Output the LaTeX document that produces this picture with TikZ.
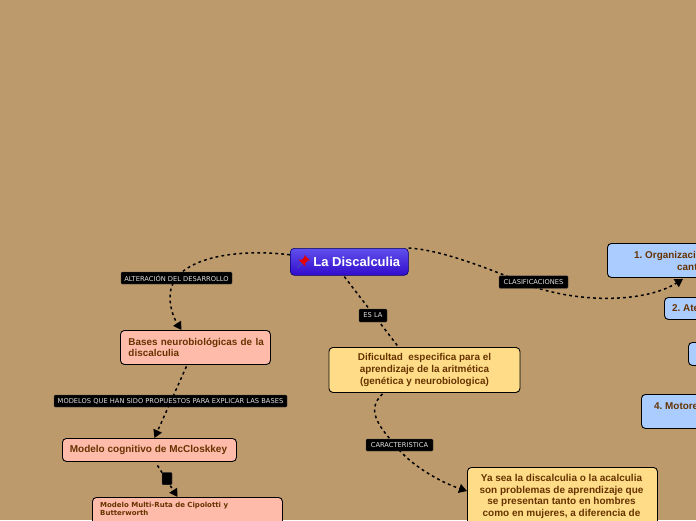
\documentclass[tikz,border=0pt]{standalone}
\usepackage{fontspec}
\setmainfont{Liberation Sans}
\newfontfamily\labfont{DejaVu Sans}
\usetikzlibrary{arrows.meta,shadings}
\definecolor{bgc}{RGB}{188,154,108}
\definecolor{txtc}{RGB}{102,51,0}
\definecolor{pinkc}{RGB}{255,187,170}
\definecolor{bluec}{RGB}{170,204,255}
\definecolor{yelc}{RGB}{255,221,136}
\definecolor{maintop}{RGB}{96,80,236}
\definecolor{mainbot}{RGB}{50,12,205}
\tikzset{
  boxbase/.style={draw=black,line width=0.9pt,rounded corners=4pt,inner sep=0pt,text=txtc,font=\bfseries\fontsize{10}{11.6}\selectfont},
  pinkbox/.style={boxbase,fill=pinkc},
  bluebox/.style={boxbase,fill=bluec},
  yelbox/.style={boxbase,fill=yelc,align=center},
  boxtext/.style={text=txtc,inner sep=0pt,anchor=base west,font=\bfseries\fontsize{9.9}{12}\selectfont},
  tag/.style={fill=black,draw=black!70,line width=0.3pt,rounded corners=1pt,text=white!88!black,inner sep=0pt,font=\labfont\fontsize{6.7}{7}\selectfont},
  conn/.style={draw=black,line width=1.5pt,dash pattern=on 2.8pt off 3.2pt},
  tipped/.style={conn,-{Triangle[length=8pt,width=9pt,fill=black]}},
}
\begin{document}
\frenchspacing
\begin{tikzpicture}[x=1pt,y=-1pt]
\useasboundingbox (0,0) rectangle (696,520);
\clip (0,0) rectangle (696,520);
\fill[bgc] (0,0) rectangle (696,520);

% boxes
\node[boxbase,draw=blue!40!black,line width=0.6pt,top color=maintop,bottom color=mainbot,text=white,minimum width=118pt,minimum height=27pt,anchor=north west,font=\bfseries\fontsize{13}{15}\selectfont] (main) at (290,248) {\hspace{15pt}La Discalculia};

\node[pinkbox,minimum width=150pt,minimum height=34pt,anchor=north west,align=left,text width=134pt,font=\bfseries\fontsize{9.9}{11.2}\selectfont] (bases) at (120,330) {\mbox{Bases neurobiológicas de la}\\discalculia};
\node[pinkbox,minimum width=174pt,minimum height=23pt,anchor=north west,font=\bfseries\fontsize{10}{12}\selectfont] (mcc) at (62,438) {\hspace{-2pt}Modelo cognitivo de McCloskkey};
\node[pinkbox,minimum width=190pt,minimum height=50pt,anchor=north west] (multi) at (92,497) {};
\node[text=txtc,inner sep=0pt,anchor=north west,align=left,font=\labfont\bfseries\fontsize{7}{8.2}\selectfont] (multitxt) at (100,502) {Modelo Multi-Ruta de Cipolotti y\\Butterworth};

\node[yelbox,minimum width=191pt,minimum height=45pt,anchor=north west,font=\bfseries\fontsize{9.9}{11.6}\selectfont] (dif) at (328.5,347) {Dificultad\ \ especifica para el\\aprendizaje de la aritmética\\(genética y neurobiologica)};
\node[yelbox,minimum width=190pt,minimum height=70pt,anchor=north west] (ya) at (467,467) {};
\node[text=txtc,inner sep=0pt,anchor=north,align=center,font=\bfseries\fontsize{10}{11.6}\selectfont] (yatxt) at (561.5,474) {Ya sea la discalculia o la acalculia\\son problemas de aprendizaje que\\se presentan tanto en hombres\\como en mujeres, a diferencia de};

\node[bluebox,minimum width=130pt,minimum height=34pt,anchor=north west] (b1) at (607,243) {};
\node[boxtext] (b1a) at (634,258.5) {1. Organizaci};
\node[boxtext] (b1b) at (677,270) {cant};
\node[bluebox,minimum width=80pt,minimum height=22pt,anchor=north west] (b2) at (664,297) {};
\node[boxtext] (b2a) at (672,311.5) {2. Ate};
\node[bluebox,minimum width=60pt,minimum height=23pt,anchor=north west] (b3) at (688,342) {};
\node[bluebox,minimum width=100pt,minimum height=34pt,anchor=north west] (b4) at (641,394) {};
\node[boxtext] (b4a) at (654,409.5) {4. Motore};

% connectors
\draw[tipped] (main.west) ++(0,-7) .. controls (235,248) and (170,258) .. (170,297) .. controls (170,310) and (175,320) .. ([xshift=-14pt]bases.north);
\draw[tipped] ([xshift=-9pt,yshift=-1.5pt]bases.south) -- ([xshift=5pt]mcc.north);
\draw[tipped] ([xshift=8pt,yshift=-3.5pt]mcc.south) -- ([xshift=-10pt]multi.north);
\draw[tipped] ([yshift=0pt]main.north east) .. controls (440,250) and (480,265) .. (534,287) .. controls (590,305) and (650,300) .. ([xshift=76pt,yshift=-1pt]b1.south west);
\draw[conn] ([xshift=-5pt,yshift=-1pt]main.south) -- ([xshift=-26pt]dif.north);
\draw[tipped] ([xshift=-42pt,yshift=-1pt]dif.south) .. controls (366,410) and (378,425) .. (395,445) .. controls (410,465) and (440,482) .. ([yshift=-24pt]ya.north west);

% connector labels
\node[tag,minimum width=111pt,minimum height=12pt] (t1) at (176.5,278) {ALTERACIÓN DEL DESARROLLO};
\node[tag,minimum width=233pt,minimum height=12pt] (t2) at (170.5,401) {MODELOS QUE HAN SIDO PROPUESTOS PARA EXPLICAR LAS BASES};
\node[tag,minimum width=10pt,minimum height=12.5pt] (t3) at (167,478.5) {};
\node[tag,minimum width=69pt,minimum height=12.5pt] (t4) at (533.5,282) {CLASIFICACIONES};
\node[tag,minimum width=28pt,minimum height=13pt] (t5) at (373,315.5) {ES LA};
\node[tag,minimum width=67pt,minimum height=12pt] (t6) at (399.5,445) {CARACTERISTICA};

% pin icon
\begin{scope}[shift={(303,262)},rotate=-45]
\draw[draw=blue!45!gray,line width=1.1pt] (0,1) -- (0,8);
\fill[red!90!black] (-4,-6) -- (4,-6) -- (2.4,-4.2) -- (2.4,-1) -- (5,1.5) -- (-5,1.5) -- (-2.4,-1) -- (-2.4,-4.2) -- cycle;
\end{scope}
\end{tikzpicture}
\end{document}
